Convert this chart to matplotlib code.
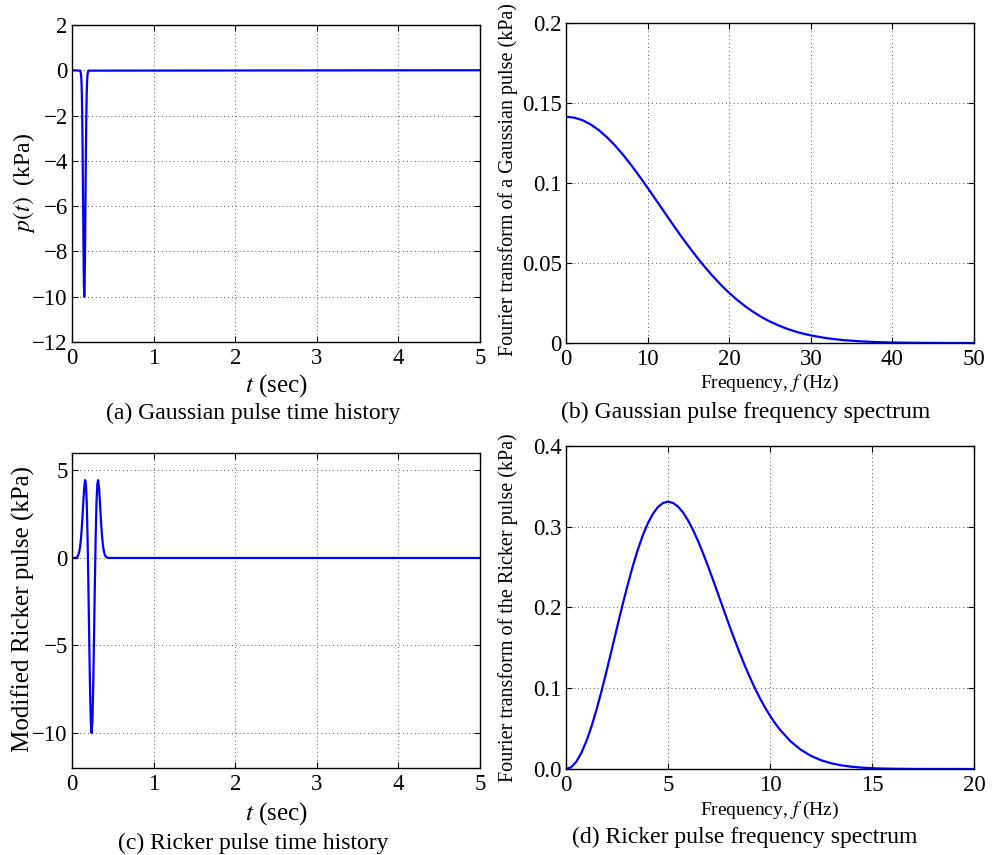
import numpy as np
import matplotlib
matplotlib.use("Agg")
import matplotlib.pyplot as plt

plt.rcParams['font.family'] = ['Liberation Serif', 'DejaVu Serif']
plt.rcParams['mathtext.fontset'] = 'stix'
plt.rcParams['axes.unicode_minus'] = True

# (a) Gaussian pulse time history
gauss_t = [0.0, 0.10, 0.11, 0.115, 0.12, 0.125, 0.13, 0.135, 0.14, 0.145, 0.15,
           0.155, 0.16, 0.165, 0.17, 0.175, 0.18, 0.185, 0.19, 0.20, 5.0]
gauss_p = [0.0, -0.017, -0.17, -0.44, -1.0, -2.03, -3.6, -5.63, -7.75, -9.38, -10.0,
           -9.38, -7.75, -5.63, -3.6, -2.03, -1.0, -0.44, -0.17, -0.017, 0.0]

# (b) Gaussian pulse spectrum
gauss_f = [0, 1, 2, 3, 4, 5, 6, 7, 8, 9, 10, 11, 12, 13, 14, 15, 16, 17, 18, 19, 20,
           21, 22, 23, 24, 25, 26, 27, 28, 29, 30, 32, 34, 36, 38, 40, 42, 44, 46, 48, 50]
gauss_F = [0.1414, 0.14087, 0.1393, 0.13668, 0.1331, 0.12868, 0.1235, 0.11755, 0.1111,
           0.10419, 0.0970, 0.0896, 0.0822, 0.07477, 0.0675, 0.06054, 0.0539, 0.04756,
           0.0417, 0.03626, 0.0313, 0.02682, 0.0228, 0.01925, 0.0161, 0.0134, 0.0111,
           0.00905, 0.00736, 0.00594, 0.00475, 0.00298, 0.00181, 0.00107, 0.00061,
           0.00034, 0.00018, 0.0001, 0.00005, 0.00002, 0.00001]

# (c) Modified Ricker pulse time history
ricker_t = [0.00, 0.01, 0.02, 0.03, 0.04, 0.05, 0.06, 0.07, 0.08, 0.09, 0.10, 0.11,
            0.12, 0.13, 0.14, 0.15, 0.16, 0.17, 0.18, 0.19, 0.20, 0.21, 0.22, 0.23,
            0.24, 0.25, 0.26, 0.27, 0.28, 0.29, 0.30, 0.31, 0.32, 0.33, 0.34, 0.35,
            0.36, 0.37, 0.38, 0.39, 0.40, 0.41, 0.42, 0.43, 0.44, 0.45, 0.46, 0.47,
            0.48, 5.0]
ricker_p = [0.0, 0.001, 0.002, 0.004, 0.010, 0.023, 0.051, 0.106, 0.210, 0.392, 0.689,
            1.134, 1.749, 2.510, 3.336, 4.062, 4.450, 4.233, 3.194, 1.261, -1.418,
            -4.452, -7.272, -9.275, -10.0, -9.275, -7.272, -4.452, -1.418, 1.261,
            3.194, 4.233, 4.450, 4.062, 3.336, 2.510, 1.749, 1.134, 0.689, 0.392,
            0.210, 0.106, 0.051, 0.023, 0.010, 0.004, 0.002, 0.001, 0.0, 0.0]

# (d) Ricker pulse spectrum
ricker_f = [0, 0.25, 0.5, 0.75, 1, 1.25, 1.5, 1.75, 2, 2.25, 2.5, 2.75, 3, 3.25, 3.5,
            3.75, 4, 4.25, 4.5, 4.75, 5, 5.25, 5.5, 5.75, 6, 6.25, 6.5, 6.75, 7, 7.25,
            7.5, 7.75, 8, 8.25, 8.5, 8.75, 9, 9.25, 9.5, 9.75, 10, 10.25, 10.5, 11,
            11.5, 12, 12.5, 13, 13.5, 14, 14.5, 15, 15.5, 16, 17, 18, 19, 20]
ricker_F = [0.0, 0.00224, 0.00891, 0.01979, 0.03458, 0.05283, 0.07401, 0.09752,
            0.12268, 0.14881, 0.17519, 0.20114, 0.22600, 0.24916, 0.27011, 0.28839,
            0.30365, 0.31565, 0.32423, 0.32936, 0.33102, 0.32941, 0.32467, 0.31712,
            0.30699, 0.29470, 0.28059, 0.26501, 0.24842, 0.23107, 0.21339, 0.19560,
            0.17806, 0.16095, 0.14453, 0.12888, 0.11417, 0.10045, 0.08787, 0.07633,
            0.06592, 0.05657, 0.04823, 0.03444, 0.02400, 0.01633, 0.01085, 0.00705,
            0.00448, 0.00278, 0.00169, 0.00100, 0.00058, 0.00033, 0.0001, 0.00003,
            0.00001, 0.0]

ticks_a = [-12, -10, -8, -6, -4, -2, 0, 2]
ticks_b = [0, 0.05, 0.1, 0.15, 0.2]
labels_b = ['0', '0.05', '0.1', '0.15', '0.2']
ticks_c = [-10, -5, 0, 5]
ticks_d = [0.0, 0.1, 0.2, 0.3, 0.4]
labels_d = ['0.0', '0.1', '0.2', '0.3', '0.4']

fig = plt.figure(figsize=(9.99, 8.55), dpi=100)
ax_a = fig.add_axes([0.0721, 0.600, 0.4084, 0.3708])
ax_b = fig.add_axes([0.5666, 0.5988, 0.4084, 0.3743])
ax_c = fig.add_axes([0.0721, 0.1018, 0.4084, 0.3684])
ax_d = fig.add_axes([0.5666, 0.1006, 0.4084, 0.3778])

for ax in [ax_a, ax_b, ax_c, ax_d]:
    ax.grid(True, linestyle=(0, (1, 3)), color='#555555', linewidth=0.7)
    ax.tick_params(direction='in', top=True, right=True, length=4, width=0.8,
                   labelsize=16.5)
    ax.tick_params(axis='y', pad=3)
    ax.tick_params(axis='x', pad=4)
    for s in ax.spines.values():
        s.set_linewidth(1.0)

ax_a.plot(gauss_t, gauss_p, color='blue', lw=1.6)
ax_a.set_xlim(0, 5)
ax_a.set_ylim(-12, 2)
ax_a.set_xticks([0, 1, 2, 3, 4, 5])
ax_a.set_yticks(ticks_a)
ax_a.set_xlabel(r'$t$ (sec)', fontsize=18)
ax_a.set_ylabel(r'$p(t)$  (kPa)', fontsize=17)
ax_a.xaxis.set_label_coords(0.5, -0.094)
ax_a.yaxis.set_label_coords(-0.085, 0.5)

ax_b.plot(gauss_f, gauss_F, color='blue', lw=1.6)
ax_b.set_xlim(0, 50)
ax_b.set_ylim(0, 0.2)
ax_b.set_yticks(ticks_b)
ax_b.set_yticklabels(labels_b)
ax_b.set_xlabel(r'Frequency, $f$ (Hz)', fontsize=14)
ax_b.set_ylabel('Fourier transform of a Gaussian pulse (kPa)', fontsize=14.5)
ax_b.xaxis.set_label_coords(0.5, -0.094)
ax_b.yaxis.set_label_coords(-0.118, 0.51)

ax_c.plot(ricker_t, ricker_p, color='blue', lw=1.6)
ax_c.set_xlim(0, 5)
ax_c.set_ylim(-12, 6)
ax_c.set_xticks([0, 1, 2, 3, 4, 5])
ax_c.set_yticks(ticks_c)
ax_c.set_xlabel(r'$t$ (sec)', fontsize=18)
ax_c.set_ylabel('Modified Ricker pulse (kPa)', fontsize=18)
ax_c.xaxis.set_label_coords(0.5, -0.101)
ax_c.yaxis.set_label_coords(-0.09, 0.505)

ax_d.plot(ricker_f, ricker_F, color='blue', lw=1.6)
ax_d.set_xlim(0, 20)
ax_d.set_ylim(0, 0.4)
ax_d.set_xticks([0, 5, 10, 15, 20])
ax_d.set_yticks(ticks_d)
ax_d.set_yticklabels(labels_d)
ax_d.set_xlabel(r'Frequency, $f$ (Hz)', fontsize=14)
ax_d.set_ylabel('Fourier transform of the Ricker pulse (kPa)', fontsize=14.5)
ax_d.xaxis.set_label_coords(0.5, -0.096)
ax_d.yaxis.set_label_coords(-0.118, 0.5)

fig.text(0.253, 0.517, '(a) Gaussian pulse time history', ha='center', va='center', fontsize=17)
fig.text(0.746, 0.518, '(b) Gaussian pulse frequency spectrum', ha='center', va='center', fontsize=17)
fig.text(0.254, 0.014, '(c) Ricker pulse time history', ha='center', va='center', fontsize=17)
fig.text(0.745, 0.020, '(d) Ricker pulse frequency spectrum', ha='center', va='center', fontsize=17)

fig.savefig('out.png', dpi=100)
